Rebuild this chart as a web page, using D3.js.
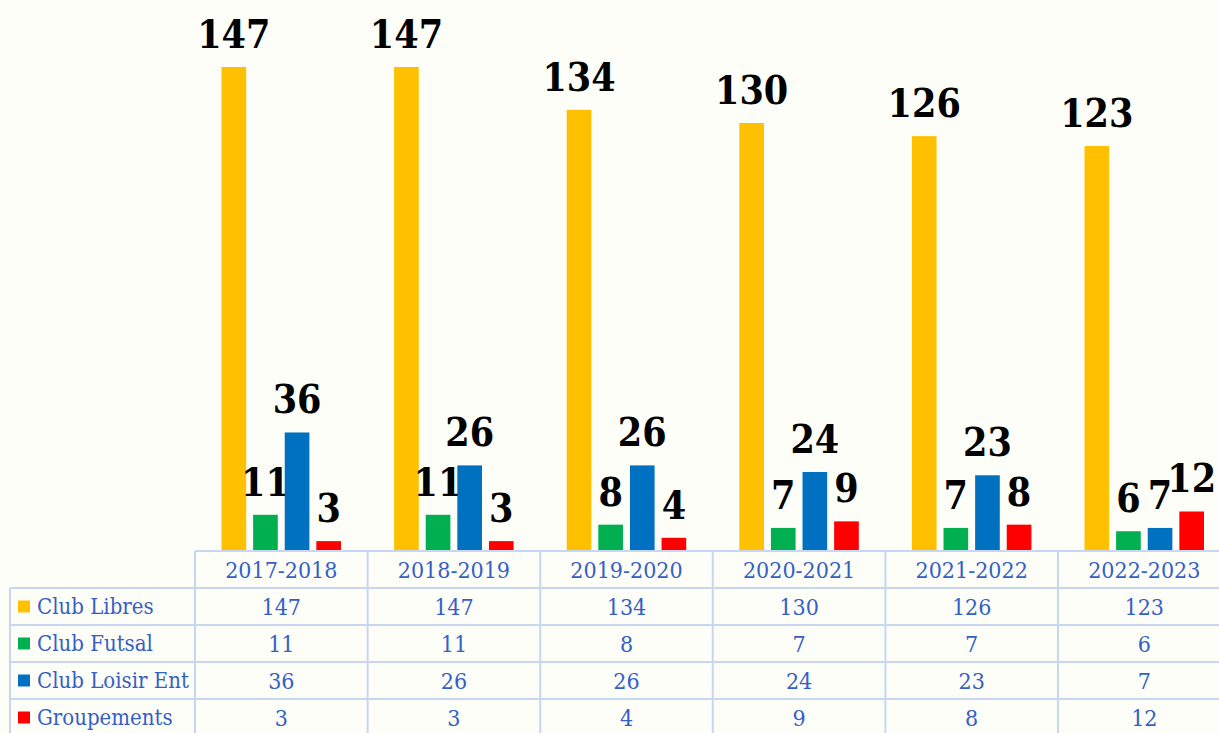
<!DOCTYPE html>
<html>
<head>
<meta charset="utf-8">
<script src="https://cdn.jsdelivr.net/npm/d3@7"></script>
<style>
  html, body { margin: 0; padding: 0; background: #fefef8; }
  svg { display: block; }
</style>
</head>
<body>
<svg id="chart" width="1219" height="733"></svg>
<script>
const categories = ["2017-2018", "2018-2019", "2019-2020", "2020-2021", "2021-2022", "2022-2023"];
const seriesNames = ["Club Libres", "Club Futsal", "Club Loisir Ent", "Groupements"];
const clubLibres = [147, 147, 134, 130, 126, 123];
const clubFutsal = [11, 11, 8, 7, 7, 6];
const clubLoisirEnt = [36, 26, 26, 24, 23, 7];
const groupements = [3, 3, 4, 9, 8, 12];
const seriesColors = ["#ffc000", "#00b050", "#0070c0", "#ff0000"];

const seriesValues = [clubLibres, clubFutsal, clubLoisirEnt, groupements];

const W = 1219, H = 733;
const svg = d3.select("#chart");
svg.append("rect").attr("width", W).attr("height", H).attr("fill", "#fefef8");

const plotLeft = 195, colW = 172.6;
const baseY = 551;
const x = d3.scaleBand().domain(categories).range([plotLeft, plotLeft + colW * categories.length]);
const xs = d3.scaleBand().domain(seriesNames).range([26.5, 146]).paddingInner(0.22);
const y = d3.scaleLinear().domain([0, 160]).range([baseY, 24.2]);

const labelFont = "'DejaVu Serif Condensed', 'DejaVu Serif', serif";
const tableFont = "'DejaVu Serif Condensed', 'DejaVu Serif', serif";

// bars
const groups = svg.append("g").selectAll("g")
  .data(categories)
  .join("g")
  .attr("transform", d => `translate(${x(d)},0)`);

seriesNames.forEach((s, si) => {
  groups.append("rect")
    .attr("x", xs(s))
    .attr("width", xs.bandwidth())
    .attr("y", (d, i) => y(seriesValues[si][i]))
    .attr("height", (d, i) => baseY - y(seriesValues[si][i]))
    .attr("fill", seriesColors[si]);
  groups.append("text")
    .attr("x", xs(s) + xs.bandwidth() / 2)
    .attr("y", (d, i) => y(seriesValues[si][i]) - 19)
    .attr("text-anchor", "middle")
    .attr("font-family", labelFont)
    .attr("font-weight", "bold")
    .attr("font-size", 39)
    .attr("fill", "#000")
    .text((d, i) => seriesValues[si][i]);
});

// data table
const rowH = 37;
const tableRight = plotLeft + colW * categories.length;
const lineColor = "#c8d6f2";
const textColor = "#3460c6";
const grid = svg.append("g").attr("stroke", lineColor).attr("stroke-width", 2);

grid.append("line").attr("x1", plotLeft).attr("x2", tableRight).attr("y1", baseY).attr("y2", baseY);
seriesNames.forEach((s, i) => {
  const yy = baseY + rowH * (i + 1);
  grid.append("line").attr("x1", 10).attr("x2", tableRight).attr("y1", yy).attr("y2", yy);
});
grid.append("line").attr("x1", 10).attr("x2", 10).attr("y1", baseY + rowH).attr("y2", H + 5);
categories.forEach((c, i) => {
  grid.append("line").attr("x1", x(c)).attr("x2", x(c)).attr("y1", baseY).attr("y2", H + 5);
});
grid.append("line").attr("x1", tableRight).attr("x2", tableRight).attr("y1", baseY).attr("y2", H + 5);

// header
svg.append("g").selectAll("text")
  .data(categories)
  .join("text")
  .attr("x", d => x(d) + x.bandwidth() / 2)
  .attr("y", baseY + rowH / 2)
  .attr("dy", "0.36em")
  .attr("text-anchor", "middle")
  .attr("font-family", tableFont)
  .attr("font-size", 23)
  .attr("fill", textColor)
  .text(d => d);

// rows
seriesNames.forEach((s, si) => {
  const cy = baseY + rowH * (si + 1) + rowH / 2;
  svg.append("rect").attr("x", 18).attr("y", cy - 6).attr("width", 12).attr("height", 12).attr("fill", seriesColors[si]);
  svg.append("text")
    .attr("x", 37).attr("y", cy).attr("dy", "0.36em")
    .attr("font-family", tableFont).attr("font-size", 22).attr("fill", textColor)
    .text(s);
  svg.append("g").selectAll("text")
    .data(categories)
    .join("text")
    .attr("x", d => x(d) + x.bandwidth() / 2)
    .attr("y", cy).attr("dy", "0.36em")
    .attr("text-anchor", "middle")
    .attr("font-family", tableFont).attr("font-size", 23).attr("fill", textColor)
    .text((d, i) => seriesValues[si][i]);
});
</script>
</body>
</html>
